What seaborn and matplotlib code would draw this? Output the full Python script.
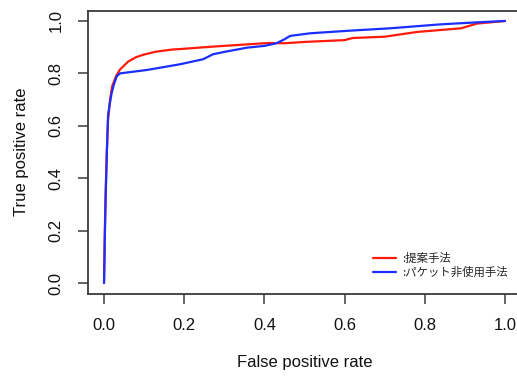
import pandas as pd
import matplotlib
matplotlib.use("Agg")
import matplotlib.pyplot as plt
import seaborn as sns

# ROC curve points
fpr_proposed = [0, 0.002, 0.004, 0.007, 0.01, 0.015, 0.02, 0.03, 0.04, 0.05, 0.06, 0.08,
                0.1, 0.13, 0.17, 0.2, 0.27, 0.36, 0.41, 0.45, 0.5, 0.6, 0.62, 0.7, 0.78,
                0.89, 0.93, 1.0]
tpr_proposed = [0, 0.2, 0.35, 0.5, 0.62, 0.7, 0.75, 0.79, 0.815, 0.83, 0.845, 0.862,
                0.872, 0.883, 0.891, 0.894, 0.902, 0.911, 0.916, 0.915, 0.92, 0.927, 0.935,
                0.94, 0.958, 0.972, 0.99, 1.0]

fpr_nopacket = [0, 0.002, 0.004, 0.007, 0.01, 0.015, 0.019, 0.025, 0.032, 0.04, 0.05,
                0.107, 0.19, 0.247, 0.272, 0.30, 0.356, 0.40, 0.43, 0.45, 0.464, 0.514,
                0.613, 0.713, 0.838, 0.945, 1.0]
tpr_nopacket = [0, 0.18, 0.32, 0.5, 0.64, 0.69, 0.725, 0.76, 0.79, 0.80, 0.802, 0.813,
                0.835, 0.854, 0.873, 0.882, 0.898, 0.905, 0.915, 0.93, 0.943, 0.953,
                0.963, 0.972, 0.987, 0.996, 1.0]

labels = [":提案手法", ":パケット非使用手法"]
ticks = [0.0, 0.2, 0.4, 0.6, 0.8, 1.0]
tick_labels = ["0.0", "0.2", "0.4", "0.6", "0.8", "1.0"]

df = pd.concat([
    pd.DataFrame({"fpr": fpr_proposed, "tpr": tpr_proposed, "method": labels[0]}),
    pd.DataFrame({"fpr": fpr_nopacket, "tpr": tpr_nopacket, "method": labels[1]}),
], ignore_index=True)

sns.set_style("white")
plt.rcParams["font.family"] = ["Liberation Sans", "Noto Sans CJK JP", "DejaVu Sans"]

W, H = 517, 376
fig = plt.figure(figsize=(W / 100, H / 100), dpi=100)
# R-like plot region (right edge runs slightly off the picture)
ax = fig.add_axes([88 / W, 1 - 293.5 / H, (521 - 88) / W, (293.5 - 10.5) / H])

sns.lineplot(data=df, x="fpr", y="tpr", hue="method", estimator=None, sort=False,
             palette=["#ff1a0a", "#1a2eff"], linewidth=1.6, ax=ax)

ax.set_xlim(-0.04, 1.04)
ax.set_ylim(-0.04, 1.04)
ax.set_xticks(ticks)
ax.set_xticklabels(tick_labels)
ax.set_yticks(ticks)
ax.set_yticklabels(tick_labels, rotation=90, va="center")

for s in ax.spines.values():
    s.set_visible(True)
    s.set_color("#3a3a3a")
    s.set_linewidth(1.3)

ax.tick_params(direction="out", length=7.5, width=1.1, color="#3a3a3a",
               labelsize=12, pad=10, labelcolor="#111111")
ax.tick_params(axis="x", bottom=True)
ax.tick_params(axis="y", left=True)

ax.set_xlabel("False positive rate", fontsize=12, labelpad=16, color="#111111")
ax.set_ylabel("True positive rate", fontsize=12, labelpad=14, color="#111111")

handles, lbls = ax.get_legend_handles_labels()
ax.legend(handles, lbls, loc="upper left", bbox_to_anchor=(0.658, 0.145),
          frameon=False, borderpad=0, borderaxespad=0, handlelength=2.0,
          handletextpad=0.55, labelspacing=0.3,
          prop={"family": ["Noto Sans CJK JP", "DejaVu Sans"], "size": 8.2})

fig.savefig("out.png", dpi=100)
